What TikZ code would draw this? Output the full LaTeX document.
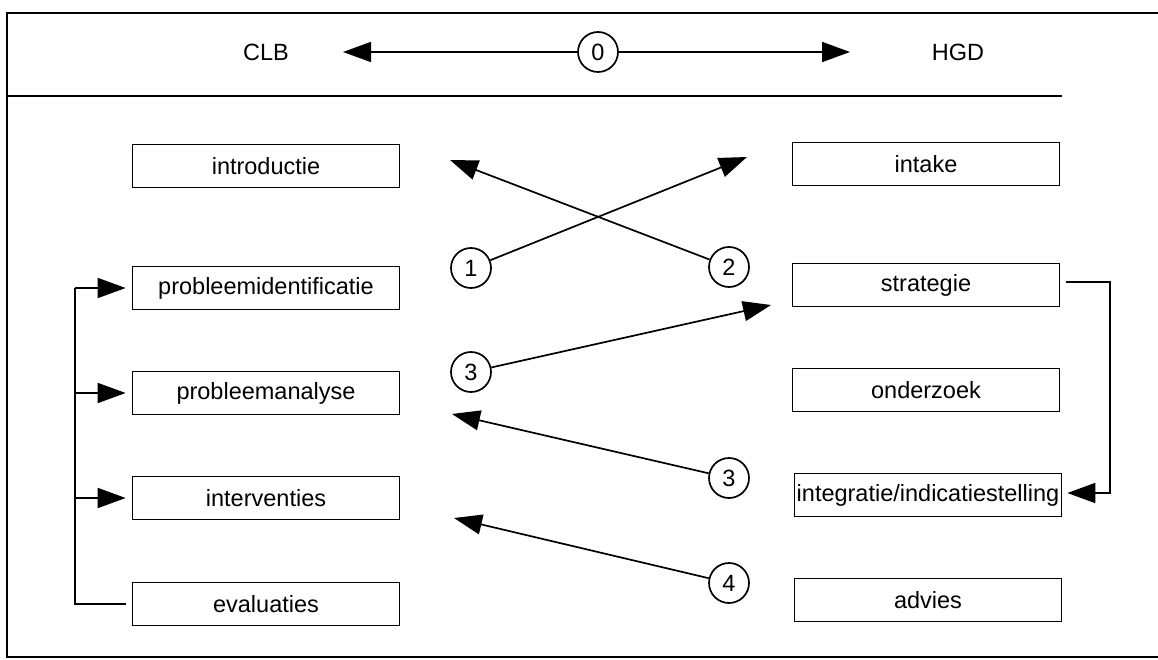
\documentclass[tikz,border=0pt]{standalone}
\usepackage{fontspec}
\setmainfont{Liberation Sans}
\usetikzlibrary{arrows.meta}
\begin{document}
\begin{tikzpicture}[x=1pt,y=-1pt,
  line width=1.7pt,
  font=\fontsize{23.5}{27}\selectfont,
  stage/.style={draw, rectangle, minimum width=267pt, minimum height=43pt, inner sep=2pt},
  num/.style={draw, circle, minimum size=40pt, inner sep=0pt},
  arr/.style={-{Triangle[length=28pt,width=20pt]}},
  frame/.style={line width=2.4pt}]
\useasboundingbox (0,0) rectangle (1158,660);
% frame
\draw[frame] (1158,13) -- (7,13) -- (7,657) -- (1158,657);
\draw[frame] (7,96) -- (1062,96);
% header
\node (clb) at (266,52) {CLB};
\node (hgd) at (958,52) {HGD};
\node[num] (c0) at (598,52) {0};
\coordinate (t0l) at (343,52);
\coordinate (t0r) at (850,52);
\draw[arr] (c0) -- (t0l);
\draw[arr] (c0) -- (t0r);
% left column
\node[stage] (intro) at (266,166) {introductie};
\node[stage] (pid) at (266,288) {probleemidentificatie};
\node[stage] (pan) at (266,393) {probleemanalyse};
\node[stage] (int) at (266,498) {interventies};
\node[stage] (eva) at (266,604) {evaluaties};
% right column
\node[stage] (intake) at (926,164) {intake};
\node[stage] (strat) at (926,285) {strategie};
\node[stage] (onder) at (926,390) {onderzoek};
\node[stage] (integ) at (928,495) {integratie/indicatiestelling};
\node[stage] (adv) at (928,600) {advies};
% numbered circles
\node[num] (c1) at (471,268) {1};
\node[num] (c2) at (729,267) {2};
\node[num] (c3a) at (471,372) {3};
\node[num] (c3b) at (729,478) {3};
\node[num] (c4) at (729,583) {4};
\coordinate (t1) at (747,157);
\coordinate (t2) at (450,160);
\coordinate (t3a) at (771,305);
\coordinate (t3b) at (452,414);
\coordinate (t4) at (454,518);
\draw[arr] (c1) -- (t1);
\draw[arr] (c2) -- (t2);
\draw[arr] (c3a) -- (t3a);
\draw[arr] (c3b) -- (t3b);
\draw[arr] (c4) -- (t4);
% left bracket
\coordinate (lb) at (75,604);
\coordinate (lt) at (75,288);
\draw (eva.west) ++(-6,0) -- (lb) -- (lt);
\draw[arr] (lt) -- ([xshift=-6pt]pid.west);
\draw[arr] (75,393) -- ([xshift=-6pt]pan.west);
\draw[arr] (75,498) -- ([xshift=-6pt]int.west);
% right bracket
\coordinate (rt) at (1110,282);
\coordinate (rb) at (1110,493);
\draw[arr] ([xshift=6pt]strat.east |- rt) -- (rt) -- (rb) -- ([xshift=5pt]integ.east |- rb);
\end{tikzpicture}
\end{document}
